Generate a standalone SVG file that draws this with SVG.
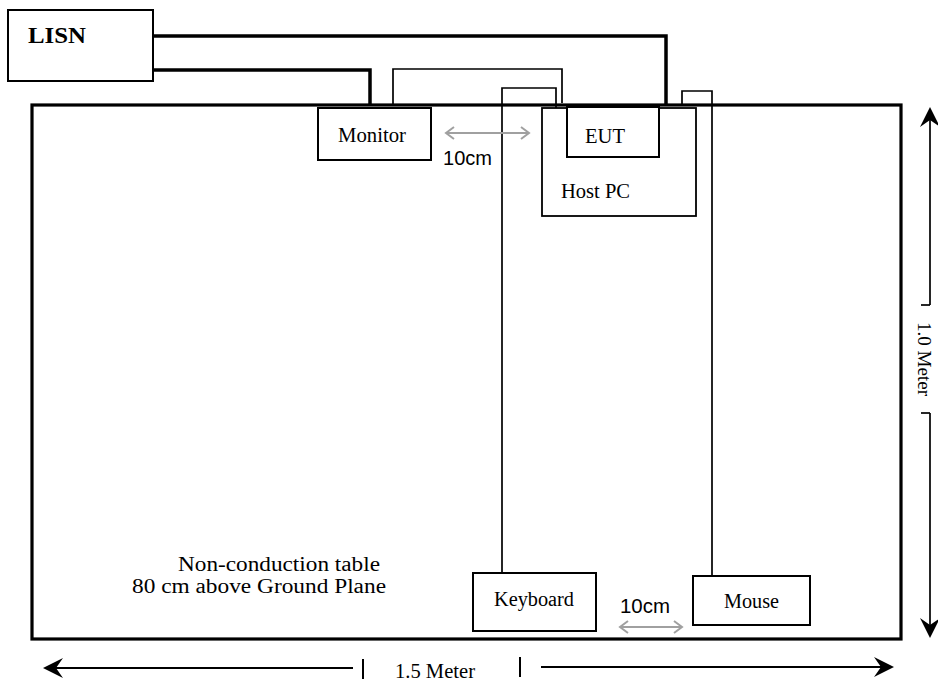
<svg xmlns="http://www.w3.org/2000/svg" width="938" height="683" viewBox="0 0 938 683">
<defs>
<style>
.box{fill:#fff;stroke:#000;stroke-width:2}
.thin{fill:none;stroke:#000;stroke-width:1.7}
.thick{fill:none;stroke:#000;stroke-width:3.5}
.serif{font-family:"Liberation Serif","Times New Roman",serif;font-size:20px;fill:#000}
.sans{font-family:"Liberation Sans",Arial,sans-serif;font-size:20px;fill:#000}
.dim{fill:none;stroke:#000;stroke-width:2}
.gray{fill:none;stroke:#a0a0a0;stroke-width:2}
</style>
<marker id="ah" markerUnits="userSpaceOnUse" viewBox="0 -10 20 20" refX="14" refY="0" markerWidth="20" markerHeight="20" orient="auto">
<path d="M0,-10 L20,0 L0,10 L7,0 Z" fill="#000"/>
</marker>
<marker id="gh" markerUnits="userSpaceOnUse" viewBox="-1 -8 11 16" refX="8" refY="0" markerWidth="11" markerHeight="16" orient="auto-start-reverse">
<path d="M0,-6 L8,0 L0,6" fill="none" stroke="#a0a0a0" stroke-width="2"/>
</marker>
</defs>
<rect width="938" height="683" fill="#fff"/>

<g id="table">
<rect x="32" y="105" width="869" height="534" fill="none" stroke="#000" stroke-width="3.2"/>
<text class="serif" x="178" y="571" textLength="202" lengthAdjust="spacingAndGlyphs">Non-conduction table</text>
<text class="serif" x="132" y="593" textLength="254" lengthAdjust="spacingAndGlyphs">80 cm above Ground Plane</text>
</g>

<g id="connectors">
<polyline class="thick" points="153,36 666,36 666,105"/>
<polyline class="thick" points="153,70 370,70 370,105"/>
<polyline class="thin" points="393,104 393,69 562,69 562,103"/>
<polyline class="thin" points="502,573 502,88 556,88 556,108"/>
<polyline class="thin" points="712,576 712,91 682,91 682,105"/>
</g>

<g id="lisn">
<rect class="box" x="8" y="10" width="145" height="71"/>
<text class="serif" x="28" y="43" style="font-weight:bold;font-size:24px" textLength="58" lengthAdjust="spacingAndGlyphs">LISN</text>
</g>

<g id="monitor">
<rect class="box" x="318" y="108" width="113" height="52"/>
<text class="serif" x="338" y="142" textLength="68" lengthAdjust="spacingAndGlyphs">Monitor</text>
</g>

<g id="host-pc">
<rect class="box" x="542" y="108" width="154" height="108" style="stroke-width:1.8"/>
<text class="serif" x="561" y="198" textLength="69" lengthAdjust="spacingAndGlyphs">Host PC</text>
</g>

<g id="eut">
<rect class="box" x="567" y="107" width="92" height="50"/>
<text class="serif" x="585" y="143" textLength="40" lengthAdjust="spacingAndGlyphs">EUT</text>
</g>

<g id="keyboard">
<rect class="box" x="473" y="573" width="123" height="58"/>
<text class="serif" x="494" y="606" textLength="80" lengthAdjust="spacingAndGlyphs">Keyboard</text>
</g>

<g id="mouse">
<rect class="box" x="693" y="576" width="117" height="49"/>
<text class="serif" x="724" y="608" textLength="55" lengthAdjust="spacingAndGlyphs">Mouse</text>
</g>

<g id="spacing-top">
<line class="gray" x1="446" y1="133" x2="529" y2="133" marker-start="url(#gh)" marker-end="url(#gh)"/>
<text class="sans" x="443" y="165" textLength="49" lengthAdjust="spacingAndGlyphs">10cm</text>
</g>

<g id="spacing-bottom">
<line class="gray" x1="620" y1="627" x2="682" y2="627" marker-start="url(#gh)" marker-end="url(#gh)"/>
<text class="sans" x="620" y="613" textLength="50" lengthAdjust="spacingAndGlyphs">10cm</text>
</g>

<g id="dim-width">
<line class="dim" x1="353" y1="668" x2="49" y2="668" marker-end="url(#ah)"/>
<line class="dim" x1="363" y1="659" x2="363" y2="679"/>
<line class="dim" x1="520" y1="657" x2="520" y2="677"/>
<line class="dim" x1="541" y1="667" x2="888" y2="667" marker-end="url(#ah)"/>
<text class="serif" x="395" y="678" textLength="80" lengthAdjust="spacingAndGlyphs">1.5 Meter</text>
</g>

<g id="dim-height">
<line class="thin" x1="930" y1="305" x2="930" y2="113" marker-end="url(#ah)"/>
<line class="thin" x1="921" y1="305" x2="930" y2="305"/>
<line class="thin" x1="921" y1="413" x2="930" y2="413"/>
<line class="thin" x1="930" y1="413" x2="930" y2="632" marker-end="url(#ah)"/>
<text class="serif" transform="translate(918,322) rotate(90)" x="0" y="0" style="font-size:19px" textLength="74" lengthAdjust="spacingAndGlyphs">1.0 Meter</text>
</g>
</svg>
